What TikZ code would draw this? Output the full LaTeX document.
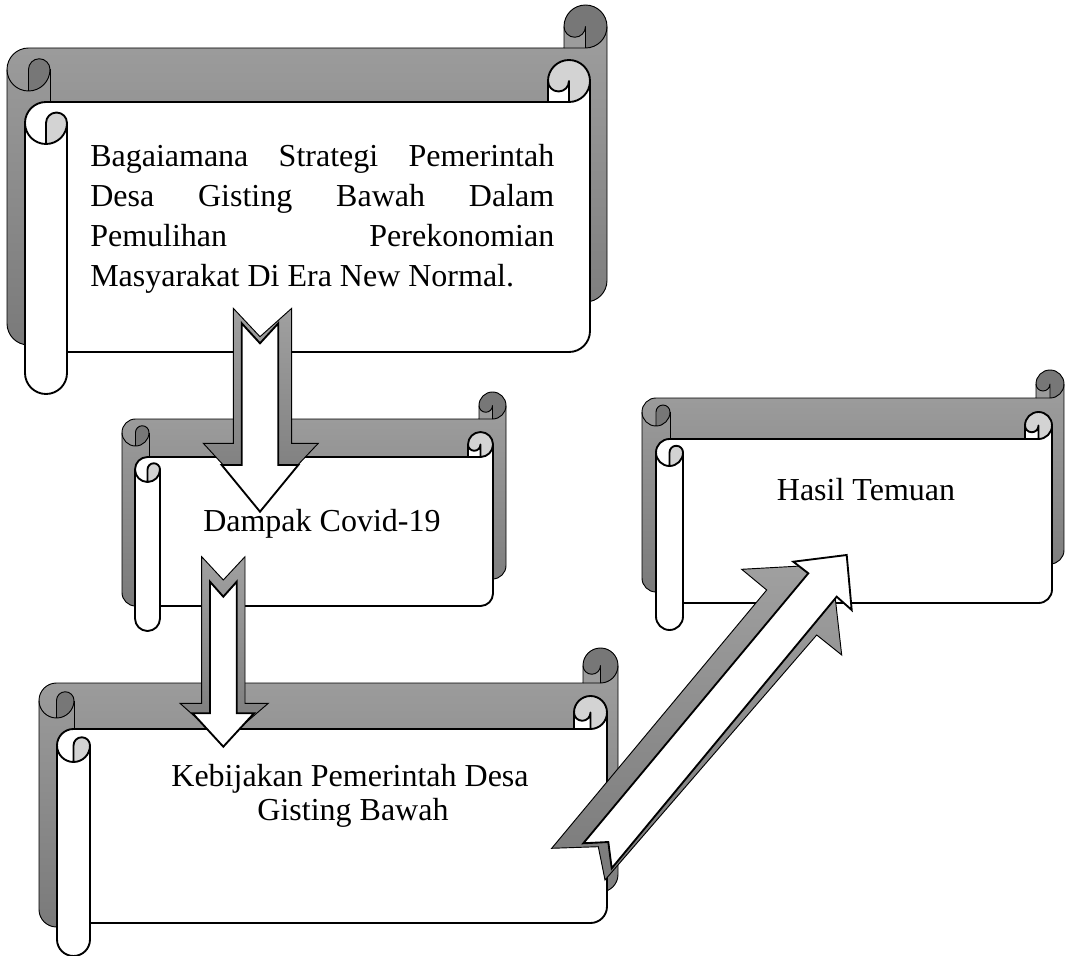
\documentclass[tikz,border=0pt]{standalone}
\usepackage{fontspec}
\setmainfont{Liberation Serif}
\definecolor{gtop}{HTML}{A0A0A0}
\definecolor{gbot}{HTML}{7A7A7A}
\definecolor{gdark}{HTML}{777777}
\definecolor{glight}{HTML}{D3D3D3}
\newcommand\drawscroll[6]{%
 \pgfmathsetmacro\scL{#1}%
 \pgfmathsetmacro\scT{#2}%
 \pgfmathsetmacro\scR{#3}%
 \pgfmathsetmacro\scB{#4}%
 \pgfmathsetmacro\scC{#5}%
 \pgfmathsetmacro\scH{#5/2}%
 \pgfmathsetmacro\scRa{0.75*#5/2}%
 \pgfmathsetmacro\scRb{0.75*#5/4}%
 \path[#6body] (\scL,\scT+1.5*\scC) arc[start angle=180,end angle=90,radius=\scRa pt]
   -- (\scR-\scC,\scT+\scC) -- (\scR-\scC,\scT+\scH) arc[start angle=180,end angle=0,radius=\scRa pt]
   -- (\scR,\scB-1.5*\scC) arc[start angle=0,end angle=-90,radius=\scRa pt]
   -- (\scL+\scC,\scB-\scC) -- (\scL+\scC,\scB-\scH) arc[start angle=0,end angle=-180,radius=\scRa pt] -- cycle;
 \path[#6curl] (\scL+\scH,\scT+2*\scC) arc[start angle=-90,end angle=0,radius=\scRa pt]
   arc[start angle=0,end angle=180,radius=\scRb pt] -- cycle;
 \path[#6curl] (\scR-\scH,\scT+\scC) arc[start angle=-90,end angle=180,radius=\scRa pt]
   arc[start angle=180,end angle=360,radius=\scRb pt] -- cycle;
 \draw[#6line] (\scL,\scT+1.5*\scC) arc[start angle=180,end angle=90,radius=\scRa pt]
   -- (\scR-\scC,\scT+\scC) -- (\scR-\scC,\scT+\scH) arc[start angle=180,end angle=0,radius=\scRa pt]
   -- (\scR,\scB-1.5*\scC) arc[start angle=0,end angle=-90,radius=\scRa pt]
   -- (\scL+\scC,\scB-\scC) -- (\scL+\scC,\scB-\scH) arc[start angle=0,end angle=-180,radius=\scRa pt] -- cycle;
 \draw[#6line] (\scR-\scC,\scT+\scC) -- (\scR-\scH,\scT+\scC) arc[start angle=-90,end angle=0,radius=\scRa pt];
 \draw[#6line] (\scR-\scH,\scT+\scC) -- (\scR-\scH,\scT+\scH) arc[start angle=0,end angle=-180,radius=\scRb pt];
 \draw[#6line] (\scL+\scH,\scT+2*\scC) -- (\scL+\scH,\scT+1.5*\scC) arc[start angle=180,end angle=0,radius=\scRb pt]
   arc[start angle=0,end angle=-180,radius=\scRa pt];
 \draw[#6line] (\scL+\scC,\scT+1.5*\scC) -- (\scL+\scC,\scB-\scC);
}
\tikzset{
 bkbody/.style={shade,top color=gtop,bottom color=gbot},
 bkcurl/.style={fill=gdark},
 bkline/.style={draw=black,line width=0.7pt,line join=round},
 frbody/.style={fill=white},
 frcurl/.style={fill=glight},
 frline/.style={draw=black,line width=1.4pt,line join=round},
 txt/.style={inner sep=0pt,font=\fontsize{24}{30}\selectfont},
 arrowback/.style={shade,top color=gtop,bottom color=gbot,draw=black,line width=0.7pt,line join=miter},
 arrowfront/.style={fill=white,draw=black,line width=1.4pt,line join=miter},
}
\begin{document}
\begin{tikzpicture}[x=0.75pt,y=-0.75pt]
\useasboundingbox (0,0) rectangle (1065,956);
% scroll 1
\drawscroll{7}{5}{607}{345}{43}{bk}
\drawscroll{25}{60}{590}{394}{42}{fr}
% scroll 2
\drawscroll{122}{392}{506}{606}{27}{bk}
\drawscroll{135}{432}{493}{631}{25}{fr}
% scroll 3
\drawscroll{642}{370}{1064}{592}{28}{bk}
\drawscroll{656}{412}{1052}{630}{27}{fr}
% scroll 4
\drawscroll{39}{648}{618}{927}{35}{bk}
\drawscroll{57}{696}{607}{956}{33}{fr}
% texts
\node[txt,anchor=base west] (q1) at (90,166.7) {\makebox[348pt][s]{Bagaiamana Strategi Pemerintah}};
\node[txt,anchor=base west] (q2) at (90,206.7) {\makebox[348pt][s]{Desa Gisting Bawah Dalam}};
\node[txt,anchor=base west] (q3) at (90,246.7) {\makebox[348pt][s]{Pemulihan Perekonomian}};
\node[txt,anchor=base west] (q4) at (90,286.7) {Masyarakat Di Era New Normal.};
\node[txt,anchor=base west] (dampak) at (203,531.7) {Dampak Covid-19};
\node[txt,anchor=base] (hasil) at (866,500) {Hasil Temuan};
\node[txt,anchor=base] (keb1) at (350,786) {Kebijakan Pemerintah Desa};
\node[txt,anchor=base] (keb2) at (353,820) {Gisting Bawah};
% arrow 1
\draw[arrowback] (233.3,308.3) -- (260,336.7) -- (291.7,308.3) -- (291.7,443.3) -- (318.3,443.3) -- (260,505) -- (203.3,443.3) -- (233.3,443.3) -- cycle;
\draw[arrowfront] (241.7,323.3) -- (260,343.3) -- (278.3,323.3) -- (278.3,465) -- (298.3,465) -- (260,511.7) -- (221.7,465) -- (241.7,465) -- cycle;
% arrow 2
\draw[arrowback] (201.7,556.7) -- (223.3,580) -- (245,556.7) -- (245,703.3) -- (268.3,703.3) -- (223.3,742) -- (180,703.3) -- (201.7,703.3) -- cycle;
\draw[arrowfront] (210,581.7) -- (223.3,596.7) -- (236.7,581.7) -- (236.7,713.3) -- (254,713.3) -- (223.3,746.7) -- (192.6,713.3) -- (210,713.3) -- cycle;
% diagonal arrow
\draw[arrowback] (551.7,848.3) -- (766.7,590) -- (741.7,569.3) -- (831.4,564.3) -- (841.7,655) -- (816.7,635) -- (605,880) -- (598.3,846.7) -- cycle;
\draw[arrowfront] (583.3,843.3) -- (808.3,573.3) -- (793.3,561.7) -- (846.7,555) -- (851.7,610) -- (836.7,596.7) -- (611.7,868.3) -- (608.3,842) -- cycle;
\end{tikzpicture}
\end{document}
